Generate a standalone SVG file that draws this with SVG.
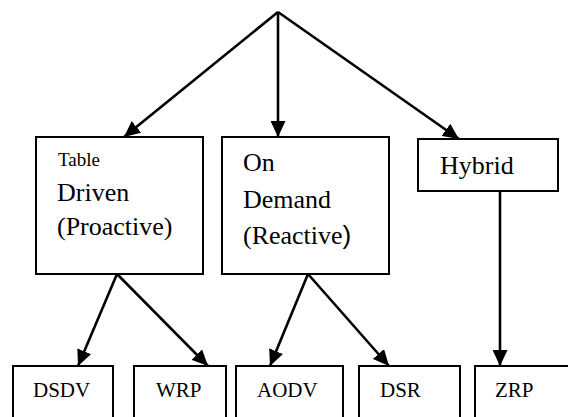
<svg xmlns="http://www.w3.org/2000/svg" width="568" height="417" viewBox="0 0 568 417">
  <style>
    .box { fill: #ffffff; stroke: #000000; stroke-width: 2; }
    .edge { fill: none; stroke: #000000; stroke-width: 2.6; marker-end: url(#head); }
    .lbl { font-family: "Liberation Serif", "Times New Roman", serif; fill: #000000; }
    .big { font-size: 26px; }
    .small { font-size: 19px; }
    .leaf { font-size: 21px; }
  </style>
  <defs>
    <marker id="head" markerUnits="userSpaceOnUse" markerWidth="17" markerHeight="15" refX="16" refY="7.5" orient="auto">
      <path d="M0,0 L16,7.5 L0,15 Z" fill="#000000"/>
    </marker>
  </defs>
  <rect width="568" height="417" fill="#ffffff"/>

  <!-- connectors -->
  <g id="connectors">
    <line class="edge" x1="278" y1="12" x2="124" y2="137"/>
    <line class="edge" x1="278" y1="12" x2="278" y2="137"/>
    <line class="edge" x1="278" y1="12" x2="459" y2="139"/>
    <line class="edge" x1="117" y1="274" x2="78" y2="366"/>
    <line class="edge" x1="117" y1="274" x2="208" y2="366"/>
    <line class="edge" x1="308" y1="274" x2="270" y2="366"/>
    <line class="edge" x1="308" y1="274" x2="389" y2="366"/>
    <line class="edge" x1="500" y1="191" x2="500" y2="366"/>
  </g>

  <!-- protocol families -->
  <g id="table-driven">
    <rect class="box" x="36" y="137" width="167" height="137"/>
    <text class="lbl small" x="58" y="166">Table</text>
    <text class="lbl big" x="57" y="201">Driven</text>
    <text class="lbl big" x="57" y="235">(Proactive)</text>
  </g>
  <g id="on-demand">
    <rect class="box" x="222" y="137" width="167" height="137"/>
    <text class="lbl big" x="243" y="171">On</text>
    <text class="lbl big" x="243" y="208">Demand</text>
    <text class="lbl big" x="243" y="244">(Reactive<tspan font-family="Liberation Sans, Arial, sans-serif">)</tspan></text>
  </g>
  <g id="hybrid">
    <rect class="box" x="418" y="139" width="140" height="52"/>
    <text class="lbl big" x="440" y="174">Hybrid</text>
  </g>

  <!-- protocols -->
  <g id="dsdv">
    <rect class="box" x="13" y="366" width="100" height="70"/>
    <text class="lbl leaf" x="33" y="397">DSDV</text>
  </g>
  <g id="wrp">
    <rect class="box" x="134" y="366" width="92" height="70"/>
    <text class="lbl leaf" x="156" y="397">WRP</text>
  </g>
  <g id="aodv">
    <rect class="box" x="236" y="366" width="107" height="70"/>
    <text class="lbl leaf" x="257" y="397">AODV</text>
  </g>
  <g id="dsr">
    <rect class="box" x="359" y="366" width="101" height="70"/>
    <text class="lbl leaf" x="380" y="397">DSR</text>
  </g>
  <g id="zrp">
    <rect class="box" x="475" y="366" width="110" height="70"/>
    <text class="lbl leaf" x="495" y="397">ZRP</text>
  </g>
</svg>
